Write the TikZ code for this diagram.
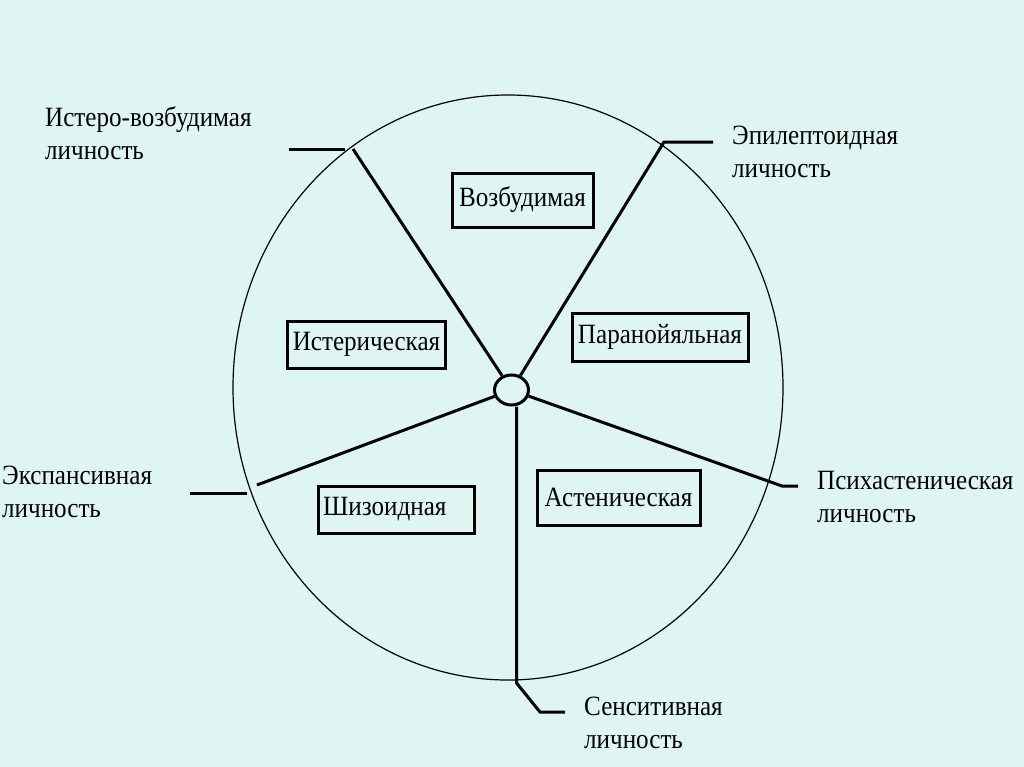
\documentclass[tikz,border=0pt]{standalone}
\usepackage{fontspec}
\setmainfont{Liberation Serif}[FakeStretch=0.9]
\usetikzlibrary{shapes.geometric}
\definecolor{bg}{RGB}{222,245,241}
\begin{document}
\begin{tikzpicture}[x=1bp,y=-1bp,
  conn/.style={line width=3bp, line join=miter},
  box/.style={draw, line width=3bp, inner xsep=5bp, inner ysep=0pt,
    font=\fontsize{28}{30}\selectfont},
  lbl/.style={anchor=base west, align=left, inner sep=0pt,
    font=\fontsize{28}{33}\selectfont}]
\fill[bg] (0,0) rectangle (1024,767);
\useasboundingbox (0,0) rectangle (1024,767);
% outer ring
\node[draw, ellipse, line width=1.2bp, inner sep=0pt,
  minimum width=550bp, minimum height=585bp] (ring) at (508,387.5) {};
% hub
\node[draw, ellipse, line width=3bp, inner sep=0pt,
  minimum width=34bp, minimum height=30bp] (hub) at (511.5,390) {};
% boxes
\node[box, minimum width=141bp, minimum height=54bp] (vozb) at (522.5,200) {Возбудимая};
\node[box, minimum width=155bp, minimum height=47bp] (ister) at (366.5,344.5) {Истерическая};
\node[box, minimum width=176bp, minimum height=48bp] (paran) at (660,337) {Паранойяльная};
\node[box, text width=146bp, align=left, minimum height=47bp] (shiz) at (396,509.5) {Шизоидная};
\node[box, minimum width=163bp, minimum height=55bp] (asten) at (618.5,497.5) {Астеническая};
% connector points
\coordinate (ih1) at (353,149);
\coordinate (ih2) at (345,149);
\coordinate (ih3) at (289,149);
\coordinate (e1) at (664,142);
\coordinate (e2) at (713,142);
\coordinate (x1) at (257,485);
\coordinate (x2) at (247,493);
\coordinate (x3) at (190,493);
\coordinate (p1) at (782,486);
\coordinate (p2) at (798,486);
\coordinate (s1) at (516.5,683);
\coordinate (s2) at (540,712);
\coordinate (s3) at (565,712);
% connectors
\draw[conn] (hub) -- (ih1);
\draw[conn] (ih2) -- (ih3);
\draw[conn] (hub) -- (e1) -- (e2);
\draw[conn] (hub) -- (x1);
\draw[conn] (x2) -- (x3);
\draw[conn] (hub) -- (p1) -- (p2);
\draw[conn] (hub.south -| s1) -- (s1) -- (s2) -- (s3);
% labels (anchor = baseline of the last line)
\node[lbl] (l1) at (45,159) {Истеро-возбудимая\\личность};
\node[lbl] (l2) at (732,177) {Эпилептоидная\\личность};
\node[lbl] (l3) at (2,517) {Экспансивная\\личность};
\node[lbl] (l4) at (817,522) {Психастеническая\\личность};
\node[lbl] (l5) at (584,748) {Сенситивная\\личность};
\end{tikzpicture}
\end{document}
